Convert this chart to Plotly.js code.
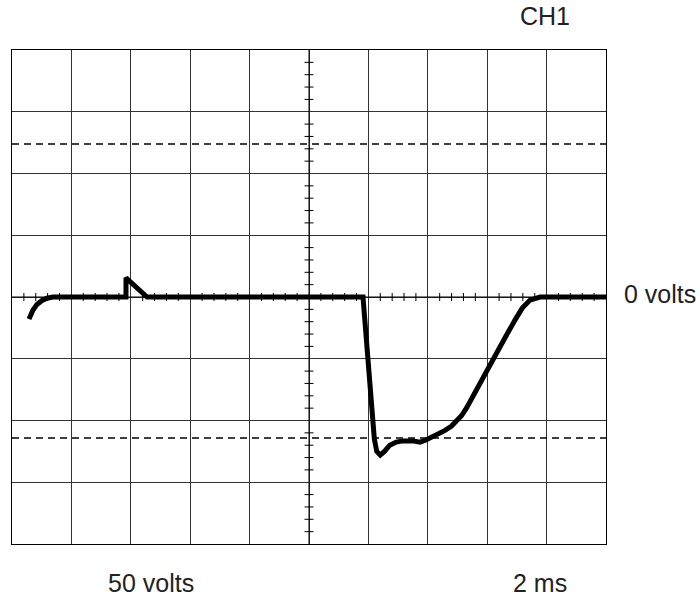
<!DOCTYPE html>
<html>
<head>
<meta charset="utf-8">
<script src="https://cdn.plot.ly/plotly-3.0.1.min.js"></script>
<style>
html,body{margin:0;padding:0;background:#fff;}
#chart{width:700px;height:598px;}
</style>
</head>
<body>
<div id="chart"></div>
<script>
// Trace, in screen divisions (x: 0..10 divisions of 2 ms, y: -4..4 divisions of 50 V)
var timeDiv = [0.286, 0.354, 0.42, 0.50, 0.59, 0.69, 1.919, 1.919, 2.273, 5.909, 6.05, 6.10, 6.14, 6.20, 6.27, 6.36, 6.47, 6.58, 6.75, 6.87, 6.96, 7.04, 7.17, 7.29, 7.40, 7.49, 7.57, 7.65, 7.76, 8.05, 8.30, 8.47, 8.59, 8.72, 8.89, 10];
var voltsDiv = [-0.356, -0.21, -0.12, -0.06, -0.02, 0, 0, 0.31, 0, 0, -1.70, -2.30, -2.50, -2.56, -2.50, -2.40, -2.35, -2.33, -2.33, -2.35, -2.32, -2.28, -2.23, -2.16, -2.09, -2.01, -1.92, -1.80, -1.60, -1.10, -0.66, -0.37, -0.18, -0.05, 0, 0];
// Dashed reference levels (divisions)
var dashedLevels = [2.478, -2.283];
// Labels
var channelLabel = "CH1";
var zeroLabel = "0 volts";
var voltsPerDiv = "50 volts";
var timePerDiv = "2 ms";

var shapes = [];
dashedLevels.forEach(function (lv) {
  shapes.push({type:'line', xref:'x', yref:'y', x0:0, x1:10, y0:lv, y1:lv,
    line:{color:'#000', width:1.3, dash:'7px,5px'}});
});
// center axes
shapes.push({type:'line', xref:'x', yref:'y', x0:0, x1:10, y0:0, y1:0, line:{color:'#000', width:1}});
shapes.push({type:'line', xref:'x', yref:'y', x0:5, x1:5, y0:-4, y1:4, line:{color:'#000', width:1}});
// minor ticks
for (var i = 1; i < 50; i++) {
  if (i % 5 === 0) continue;
  var t = i * 0.2;
  shapes.push({type:'line', xref:'x', yref:'y', x0:t, x1:t, y0:-0.065, y1:0.065, line:{color:'#000', width:1}});
}
for (var j = 1; j < 40; j++) {
  if (j % 5 === 0) continue;
  var v = -4 + j * 0.2;
  shapes.push({type:'line', xref:'x', yref:'y', x0:4.925, x1:5.075, y0:v, y1:v, line:{color:'#000', width:1}});
}

var fontFam = 'Liberation Sans, Arial, sans-serif';
var layout = {
  width: 700, height: 598,
  margin: {l:12, r:94, t:50, b:54},
  paper_bgcolor: '#fff', plot_bgcolor: '#fff',
  showlegend: false,
  xaxis: {range:[0,10], dtick:1, tick0:0, showgrid:true, gridcolor:'#333', gridwidth:1,
    zeroline:false, showticklabels:false, ticks:'', showline:true, mirror:true, linecolor:'#000', linewidth:1, fixedrange:true},
  yaxis: {range:[-4,4], dtick:1, tick0:0, showgrid:true, gridcolor:'#333', gridwidth:1,
    zeroline:false, showticklabels:false, ticks:'', showline:true, mirror:true, linecolor:'#000', linewidth:1, fixedrange:true},
  shapes: shapes,
  annotations: [
    {text: channelLabel, xref:'paper', yref:'paper', x:0.897, y:1.068, xanchor:'center', yanchor:'middle', showarrow:false, font:{family:fontFam, size:25, color:'#222'}},
    {text: zeroLabel, xref:'paper', yref:'y', x:1.027, y:0, xanchor:'left', yanchor:'middle', yshift:3, showarrow:false, font:{family:fontFam, size:25, color:'#222'}},
    {text: voltsPerDiv, xref:'paper', yref:'paper', x:0.234, y:-0.079, xanchor:'center', yanchor:'middle', showarrow:false, font:{family:fontFam, size:25, color:'#222'}},
    {text: timePerDiv, xref:'paper', yref:'paper', x:0.889, y:-0.079, xanchor:'center', yanchor:'middle', showarrow:false, font:{family:fontFam, size:25, color:'#222'}}
  ]
};

Plotly.newPlot('chart', [{
  x: timeDiv, y: voltsDiv, type:'scatter', mode:'lines',
  line:{color:'#000', width:5, shape:'linear'}, hoverinfo:'skip', cliponaxis:false
}], layout, {displayModeBar:false, staticPlot:true});
</script>
</body>
</html>
